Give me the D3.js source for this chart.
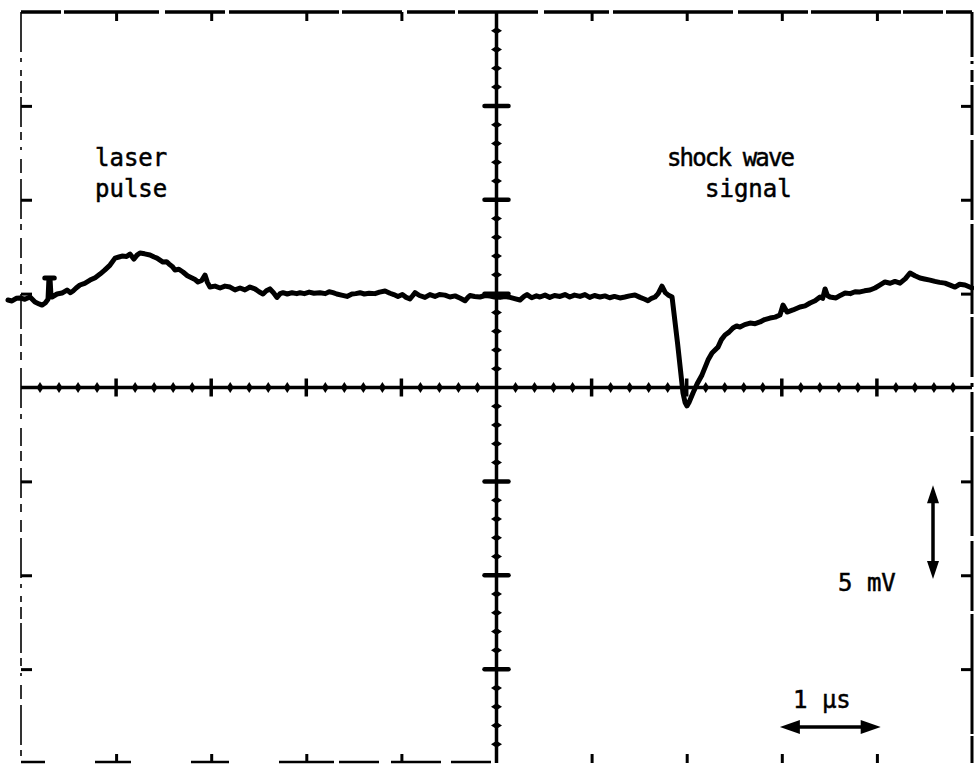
<!DOCTYPE html>
<html>
<head>
<meta charset="utf-8">
<script src="https://cdn.jsdelivr.net/npm/d3@7"></script>
<style>
  html, body { margin: 0; padding: 0; background: #fff; }
  svg { display: block; }
  .lbl { font-family: "DejaVu Sans Mono", "Liberation Mono", monospace; font-size: 24px; fill: #000; stroke: #000; stroke-width: 0.5px; }
</style>
</head>
<body>
<svg id="scope" width="974" height="764"></svg>
<script>
// Oscilloscope screen: 10 horizontal divisions of 1 µs, 8 vertical divisions of 5 mV
const timeDomain = [-5, 5];          // µs
const voltDomain = [-20, 20];        // mV
const timeDivTicks = [-4, -3, -2, -1, 1, 2, 3, 4];
const voltDivTicks = [-15, -10, -5, 5, 10, 15];

// Recorded trace: time (µs) and voltage (mV)
const traceTime = [
  -5.137, -5.095, -5.050, -5.011, -4.960, -4.905, -4.853, -4.810, -4.779, -4.745, -4.716, -4.706,
  -4.75, -4.65, -4.695, -4.685, -4.674, -4.621, -4.569, -4.516, -4.480, -4.453, -4.420, -4.380,
  -4.330, -4.274, -4.220, -4.169, -4.120, -4.064, -4.011, -3.970, -3.938, -3.890, -3.854, -3.812,
  -3.780, -3.749, -3.700, -3.644, -3.600, -3.570, -3.507, -3.470, -3.444, -3.410, -3.381, -3.340,
  -3.297, -3.250, -3.202, -3.170, -3.139, -3.100, -3.065, -3.040, -3.013, -2.960, -2.907, -2.855,
  -2.802, -2.750, -2.697, -2.645, -2.592, -2.540, -2.497, -2.455, -2.420, -2.382, -2.345, -2.308,
  -2.275, -2.245, -2.200, -2.150, -2.100, -2.066, -2.020, -1.970, -1.920, -1.856, -1.800, -1.760,
  -1.719, -1.680, -1.630, -1.572, -1.520, -1.480, -1.435, -1.390, -1.340, -1.278, -1.230, -1.172,
  -1.120, -1.080, -1.036, -0.990, -0.950, -0.910, -0.880, -0.857, -0.810, -0.752, -0.700, -0.647,
  -0.600, -0.542, -0.490, -0.436, -0.380, -0.331, -0.300, -0.279, -0.230, -0.174, -0.120, -0.068,
  -0.020, 0.037, 0.090, 0.142, 0.200, 0.247, 0.290, 0.321, 0.370, 0.420, 0.457, 0.510,
  0.560, 0.610, 0.668, 0.720, 0.770, 0.820, 0.878, 0.930, 0.980, 1.030, 1.088, 1.140,
  1.190, 1.240, 1.298, 1.350, 1.400, 1.456, 1.510, 1.560, 1.593, 1.630, 1.667, 1.700,
  1.740, 1.775, 1.804, 1.846, 1.905, 1.961, 1.983, 2.003, 2.024, 2.066, 2.110, 2.161,
  2.224, 2.266, 2.329, 2.365, 2.403, 2.445, 2.487, 2.525, 2.560, 2.610, 2.666, 2.720,
  2.771, 2.820, 2.876, 2.930, 2.981, 3.013, 3.055, 3.118, 3.191, 3.245, 3.297, 3.350,
  3.402, 3.430, 3.455, 3.480, 3.507, 3.570, 3.620, 3.665, 3.720, 3.770, 3.822, 3.870,
  3.927, 3.980, 4.030, 4.085, 4.140, 4.190, 4.243, 4.300, 4.348, 4.400, 4.453, 4.500,
  4.558, 4.610, 4.660, 4.716, 4.770, 4.821, 4.870, 4.926, 5.000
];
const traceVolt = [
  4.66, 4.61, 4.75, 4.77, 4.70, 4.82, 4.55, 4.45, 4.39, 4.50, 4.70, 5.83,
  5.83, 5.83, 5.83, 4.90, 4.82, 4.98, 5.03, 5.19, 5.05, 5.14, 5.30, 5.46,
  5.55, 5.72, 5.85, 6.04, 6.25, 6.52, 6.89, 6.95, 7.00, 6.98, 7.11, 6.84,
  7.05, 7.16, 7.12, 7.06, 6.95, 6.89, 6.68, 6.70, 6.58, 6.45, 6.26, 6.30,
  6.15, 5.95, 5.83, 5.75, 5.62, 5.70, 5.99, 5.60, 5.35, 5.40, 5.30, 5.40,
  5.35, 5.20, 5.30, 5.20, 5.35, 5.25, 5.10, 4.98, 5.15, 5.25, 5.05, 4.80,
  5.00, 5.05, 4.98, 5.05, 5.00, 5.05, 5.00, 5.08, 5.02, 5.05, 5.00, 5.10,
  5.05, 4.98, 4.92, 4.85, 4.98, 5.00, 5.05, 4.98, 5.02, 5.00, 5.08, 5.14,
  5.02, 4.95, 4.85, 4.95, 4.80, 4.72, 4.90, 5.05, 4.90, 4.80, 4.95, 4.85,
  4.95, 4.92, 4.82, 4.88, 4.75, 4.62, 4.80, 4.90, 4.85, 4.82, 4.90, 4.87,
  4.82, 4.80, 4.85, 4.80, 4.72, 4.66, 4.85, 4.95, 4.78, 4.88, 4.82, 4.92,
  4.80, 4.90, 4.85, 4.95, 4.82, 4.92, 4.85, 4.95, 4.80, 4.90, 4.82, 4.88,
  4.78, 4.85, 4.77, 4.82, 4.88, 4.93, 4.80, 4.70, 4.62, 4.75, 4.82, 5.00,
  5.40, 5.05, 4.93, 4.82, 2.30, -0.29, -0.80, -0.98, -0.80, -0.29, 0.20, 0.67,
  1.46, 1.84, 2.15, 2.55, 2.80, 2.95, 3.17, 3.28, 3.22, 3.35, 3.43, 3.40,
  3.49, 3.62, 3.70, 3.75, 3.86, 4.39, 4.02, 4.13, 4.29, 4.35, 4.50, 4.62,
  4.82, 4.75, 5.25, 4.90, 4.82, 4.77, 4.92, 5.03, 5.00, 5.10, 5.09, 5.15,
  5.19, 5.30, 5.45, 5.62, 5.55, 5.65, 5.56, 5.80, 6.10, 5.95, 5.83, 5.78,
  5.72, 5.65, 5.60, 5.56, 5.45, 5.35, 5.50, 5.46, 5.30
];

// Annotations
const labelLaser = ["laser", "pulse"];
const labelShock = ["shock wave", "signal"];
const voltScaleLabel = "5 mV";
const timeScaleLabel = "1 µs";
const voltScaleBar = [-5.2, -10.2];  // mV
const timeScaleBar = [2.98, 4.04];   // µs

const svg = d3.select("#scope");
const x = d3.scaleLinear().domain(timeDomain).range([21, 972]);
const y = d3.scaleLinear().domain(voltDomain).range([763, 12]);

const ink = "#000";

// ---- screen frame (worn, broken edges) ----
const frame = svg.append("g").attr("stroke", ink).attr("fill", "none").attr("stroke-linecap", "butt");
frame.append("line").attr("x1", x(-5)).attr("x2", x(5)).attr("y1", y(20)).attr("y2", y(20))
  .attr("stroke-width", 3.5).attr("stroke-dasharray", "40,3,95,6,60,4,110,3,60,5,48,3,80,6,65,4,120,5,70,3,90,2");
frame.append("line").attr("x1", x(-5)).attr("x2", x(-5)).attr("y1", y(20)).attr("y2", y(-20))
  .attr("stroke-width", 1.6).attr("stroke-dasharray", "40,6,4,8,6,5,12,4,30,5,8,7,3,9,14,6,40,5,6,8,20,6,10,7,4,9,35,5,12,6,8,8,40,6,5,9,18,5,10,7,30,6,8,8,12,6");
frame.append("line").attr("x1", x(5)).attr("x2", x(5)).attr("y1", y(20)).attr("y2", y(-20))
  .attr("stroke-width", 3).attr("stroke-dasharray", "45,4,3,6,12,3,50,5,80,4,90,3,60,6,4,5,40,4,100,5,70,3,120,2");
frame.append("line").attr("x1", x(-5)).attr("x2", x(0)).attr("y1", y(-20) - 1).attr("y2", y(-20) - 1)
  .attr("stroke-width", 2.5).attr("stroke-dasharray", "24,50,36,60,38,50,55,5,40,12,50,10,40,60");

// frame ticks drawn by d3 axes (no labels)
const tickStyle = g => {
  g.select(".domain").remove();
  g.selectAll(".tick line").attr("stroke", ink).attr("stroke-width", 3);
  g.selectAll(".tick text").remove();
};
svg.append("g").attr("transform", `translate(0,${y(20)})`)
  .call(d3.axisBottom(x).tickValues(timeDivTicks).tickSize(9).tickFormat("")).call(tickStyle);
svg.append("g").attr("transform", `translate(0,${y(-20)})`)
  .call(d3.axisTop(x).tickValues(timeDivTicks).tickSize(9).tickFormat("")).call(tickStyle);
svg.append("g").attr("transform", `translate(${x(-5)},0)`)
  .call(d3.axisRight(y).tickValues(voltDivTicks).tickSize(11).tickFormat("")).call(tickStyle);
svg.append("g").attr("transform", `translate(${x(5)},0)`)
  .call(d3.axisLeft(y).tickValues(voltDivTicks).tickSize(11).tickFormat("")).call(tickStyle);

// ---- central graticule axes ----
const cross = svg.append("g").attr("stroke", ink).attr("fill", ink);
cross.append("line").attr("x1", x(-5)).attr("x2", x(5)).attr("y1", y(0)).attr("y2", y(0)).attr("stroke-width", 3.5);
cross.append("line").attr("x1", x(0)).attr("x2", x(0)).attr("y1", y(20)).attr("y2", y(-20)).attr("stroke-width", 3.5);

const minorT = d3.range(-25, 26).map(i => i / 5).filter(t => !Number.isInteger(t));
const minorV = d3.range(-20, 21).filter(v => v % 5 !== 0);

// minor ticks on the time axis: small diamonds
cross.selectAll("path.mt").data(minorT).join("path").attr("class", "mt")
  .attr("stroke", "none")
  .attr("d", t => `M${x(t)},${y(0) - 5.5}L${x(t) + 3.5},${y(0)}L${x(t)},${y(0) + 5.5}L${x(t) - 3.5},${y(0)}Z`);
// minor ticks on the voltage axis
cross.selectAll("path.mv").data(minorV).join("path").attr("class", "mv")
  .attr("stroke", "none")
  .attr("d", v => `M${x(0) - 5.5},${y(v)}L${x(0)},${y(v) - 3.5}L${x(0) + 5.5},${y(v)}L${x(0)},${y(v) + 3.5}Z`);
// major ticks on the time axis
cross.selectAll("line.Mt").data(timeDivTicks).join("line").attr("class", "Mt")
  .attr("x1", t => x(t)).attr("x2", t => x(t)).attr("y1", y(0) - 9).attr("y2", y(0) + 9).attr("stroke-width", 3.5);
// major ticks on the voltage axis
cross.selectAll("line.Mv").data(voltDivTicks).join("line").attr("class", "Mv")
  .attr("x1", x(0) - 12).attr("x2", x(0) + 12).attr("y1", v => y(v)).attr("y2", v => y(v))
  .attr("stroke-width", 4.5).attr("stroke-linecap", "round");

// ---- recorded trace ----
const trace = d3.zip(traceTime, traceVolt);
svg.append("path").datum(trace)
  .attr("fill", "none").attr("stroke", ink).attr("stroke-width", 5)
  .attr("stroke-linejoin", "round").attr("stroke-linecap", "round")
  .attr("d", d3.line().x(d => x(d[0])).y(d => y(d[1])));

// ---- labels ----
const txt = svg.append("g");
txt.append("text").attr("class", "lbl").attr("x", 95).attr("y", 166).text(labelLaser[0]);
txt.append("text").attr("class", "lbl").attr("x", 95).attr("y", 197).text(labelLaser[1]);
txt.append("text").attr("class", "lbl").attr("x", 667).attr("y", 166).attr("textLength", 128).text(labelShock[0]);
txt.append("text").attr("class", "lbl").attr("x", 705).attr("y", 197).text(labelShock[1]);
txt.append("text").attr("class", "lbl").attr("x", 838).attr("y", 591).text(voltScaleLabel);
txt.append("text").attr("class", "lbl").attr("x", 793).attr("y", 708).text(timeScaleLabel);

// ---- scale bars (double arrows) ----
const arrows = svg.append("g").attr("fill", ink).attr("stroke", ink);
const ax = 933;
const vy1 = y(voltScaleBar[0]), vy2 = y(voltScaleBar[1]);
arrows.append("line").attr("x1", ax).attr("x2", ax).attr("y1", vy1 + 8).attr("y2", vy2 - 8).attr("stroke-width", 3.5);
arrows.append("path").attr("stroke", "none")
  .attr("d", `M${ax},${vy1}L${ax + 6},${vy1 + 18}L${ax - 6},${vy1 + 18}Z`);
arrows.append("path").attr("stroke", "none")
  .attr("d", `M${ax},${vy2}L${ax + 6},${vy2 - 18}L${ax - 6},${vy2 - 18}Z`);
const hy = 727;
const hx1 = x(timeScaleBar[0]), hx2 = x(timeScaleBar[1]);
arrows.append("line").attr("x1", hx1 + 10).attr("x2", hx2 - 10).attr("y1", hy).attr("y2", hy).attr("stroke-width", 3.5);
arrows.append("path").attr("stroke", "none")
  .attr("d", `M${hx1},${hy}L${hx1 + 20},${hy - 7}L${hx1 + 20},${hy + 7}Z`);
arrows.append("path").attr("stroke", "none")
  .attr("d", `M${hx2},${hy}L${hx2 - 20},${hy - 7}L${hx2 - 20},${hy + 7}Z`);
</script>
</body>
</html>
